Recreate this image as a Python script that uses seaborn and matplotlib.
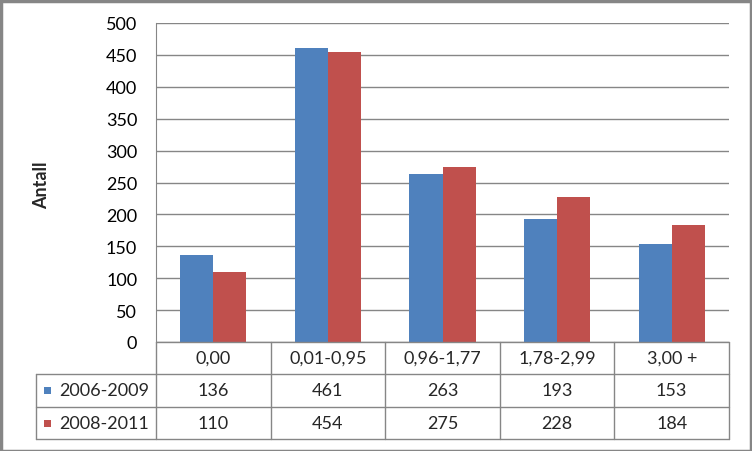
import pandas as pd
import numpy as np
import matplotlib.pyplot as plt
import matplotlib.transforms as mtransforms
from matplotlib.lines import Line2D
from matplotlib.patches import Rectangle
import seaborn as sns

# Data
categories = ['0,00', '0,01-0,95', '0,96-1,77', '1,78-2,99', '3,00 +']
periods = ['2006-2009', '2008-2011']
values_2006_2009 = [136, 461, 263, 193, 153]
values_2008_2011 = [110, 454, 275, 228, 184]
colors = ['#4F81BD', '#C0504D']
grid_color = '#868686'

df = pd.DataFrame({
    'kategori': categories * 2,
    'antall': values_2006_2009 + values_2008_2011,
    'periode': [periods[0]] * 5 + [periods[1]] * 5,
})

sns.set_style('white')
plt.rcParams['font.family'] = ['Lato', 'DejaVu Sans']
fs = 13

fig = plt.figure(figsize=(7.52, 4.52), dpi=100)
W, H = 752, 452
ax = fig.add_axes([156 / W, 1 - 343 / H, (729 - 156) / W, (343 - 24) / H])

sns.barplot(data=df, x='kategori', y='antall', hue='periode', palette=colors,
            width=0.576, saturation=1, legend=False, ax=ax, edgecolor='none')

ax.set_xlim(-0.5, len(categories) - 0.5)
ax.set_ylim(0, 500)
ax.set_yticks(np.arange(0, 501, 50))
ax.tick_params(axis='y', length=0, pad=13.5, labelsize=fs, colors='black')
ax.set_xticks([])
ax.set_xlabel('')
ax.set_ylabel('')
ax.grid(axis='y', color=grid_color, linewidth=1)
ax.set_axisbelow(True)
for side in ['top', 'right', 'bottom']:
    ax.spines[side].set_visible(False)
ax.spines['left'].set_color(grid_color)

fig.text(42 / W, 1 - 185 / H, 'Antall', rotation=90, fontsize=fs,
         fontweight='bold', ha='center', va='center')

# Data table below the axes (x in data units, y in figure fraction)
trans = mtransforms.blended_transform_factory(ax.transData, fig.transFigure)
fy = lambda p: 1 - p / H
fx = lambda p: p / W
row_y = [343, 375, 408, 440]
n = len(categories)

lw = 1
# horizontal lines
fig.add_artist(Line2D([fx(156), fx(729)], [fy(343)] * 2, color=grid_color, lw=lw))
for y in row_y[1:]:
    fig.add_artist(Line2D([fx(36), fx(729)], [fy(y)] * 2, color=grid_color, lw=lw))
# vertical lines
fig.add_artist(Line2D([fx(36)] * 2, [fy(375), fy(440)], color=grid_color, lw=lw))
fig.add_artist(Line2D([fx(156)] * 2, [fy(343), fy(440)], color=grid_color, lw=lw))
for i in range(n):
    xb = i + 0.5
    fig.add_artist(Line2D([xb, xb], [fy(343), fy(440)], color=grid_color, lw=lw,
                          transform=trans))

# category labels and values
for i, cat in enumerate(categories):
    fig.text(i, fy(359), cat, transform=trans, ha='center', va='center', fontsize=fs)
    fig.text(i, fy(391.5), str(values_2006_2009[i]), transform=trans,
             ha='center', va='center', fontsize=fs)
    fig.text(i, fy(424), str(values_2008_2011[i]), transform=trans,
             ha='center', va='center', fontsize=fs)

# legend keys in the table
for j, (per, y) in enumerate(zip(periods, [391.5, 424])):
    fig.add_artist(Rectangle((fx(44), fy(y + 3.5)), 6.5 / W, 7 / H,
                             facecolor=colors[j], edgecolor='none'))
    fig.text(fx(59), fy(y), per, ha='left', va='center', fontsize=fs)

# outer chart border
fig.add_artist(Rectangle((0.5 / W, 0.5 / H), (W - 2) / W, (H - 2) / H,
                         fill=False, edgecolor=grid_color, lw=2.5))

fig.savefig('out.png', dpi=100)
